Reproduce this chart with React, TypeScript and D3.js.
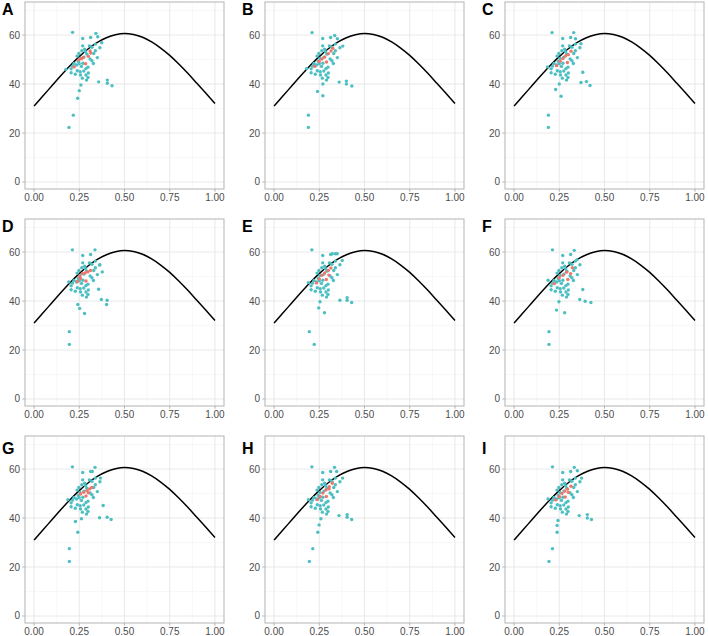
import React from 'react'
import * as d3 from 'd3'

// curve (same in every panel)
const curveX = [0, 0.05, 0.1, 0.15, 0.2, 0.25, 0.3, 0.35, 0.4, 0.45, 0.5, 0.55, 0.6, 0.65, 0.7, 0.75, 0.8, 0.85, 0.9, 0.95, 1]
const curveY = [31.0, 35.2, 39.4, 43.6, 47.6, 51.2, 54.4, 57.0, 58.9, 60.1, 60.6, 60.2, 59.1, 57.2, 54.7, 51.7, 48.2, 44.4, 40.3, 36.2, 32.1]

const panelLabels = ['A', 'B', 'C', 'D', 'E', 'F', 'G', 'H', 'I']
const xTicks = [0, 0.25, 0.5, 0.75, 1]
const yTicks = [0, 20, 40, 60]

// dense cluster, shared by all panels
const corePoints: [number, number][] = [
  [0.269, 58.6], [0.313, 59.0], [0.339, 56.3], [0.269, 55.6], [0.306, 55.6], [0.32, 55.0], [0.364, 54.8],
  [0.28, 54.2], [0.339, 53.6], [0.264, 53.6], [0.285, 53.2], [0.248, 52.5], [0.292, 52.2], [0.33, 52.5],
  [0.238, 51.4], [0.276, 51.0], [0.254, 50.4], [0.221, 48.4], [0.235, 47.8], [0.245, 49.2], [0.27, 48.5],
  [0.328, 48.4], [0.212, 47.3], [0.205, 46.2], [0.25, 48.3], [0.287, 46.3], [0.239, 45.4], [0.255, 45.0],
  [0.298, 46.9], [0.287, 43.7], [0.257, 43.7], [0.267, 42.4], [0.298, 42.7], [0.29, 41.6], [0.32, 49.5],
  [0.262, 47.2], [0.3, 44.5], [0.228, 44.0], [0.31, 50.2], [0.35, 50.8], [0.205, 44.6], [0.275, 45.3],
]

// points that differ from panel to panel
const extraPoints: [number, number][][] = [
  [[0.213, 61.1], [0.342, 60.7], [0.352, 59.3], [0.374, 56.9], [0.176, 46.0], [0.357, 40.9], [0.405, 41.6], [0.405, 40.3], [0.431, 39.3], [0.259, 39.6], [0.25, 37.3], [0.241, 34.2], [0.217, 27.3], [0.193, 22.3]],
  [[0.21, 61.0], [0.335, 59.8], [0.35, 58.5], [0.38, 55.5], [0.18, 46.3], [0.36, 40.8], [0.4, 41.2], [0.4, 40.0], [0.43, 39.2], [0.27, 40.0], [0.24, 37.0], [0.27, 35.2], [0.19, 27.3], [0.19, 22.3]],
  [[0.21, 61.0], [0.33, 61.0], [0.34, 58.5], [0.37, 56.5], [0.185, 47.0], [0.37, 40.6], [0.4, 41.0], [0.42, 39.4], [0.25, 40.0], [0.23, 37.8], [0.26, 35.0], [0.19, 27.3], [0.19, 22.3], [0.38, 44.8]],
  [[0.212, 60.9], [0.337, 60.9], [0.362, 54.7], [0.377, 51.9], [0.192, 47.8], [0.357, 44.8], [0.372, 40.6], [0.404, 40.3], [0.401, 38.6], [0.242, 38.6], [0.252, 37.0], [0.279, 34.9], [0.195, 27.5], [0.195, 22.3]],
  [[0.209, 60.9], [0.322, 59.3], [0.339, 59.3], [0.349, 59.3], [0.377, 56.6], [0.19, 47.5], [0.364, 40.3], [0.404, 41.4], [0.404, 40.3], [0.429, 39.4], [0.254, 39.7], [0.247, 37.2], [0.279, 35.2], [0.195, 27.5], [0.222, 22.3]],
  [[0.2125, 60.9], [0.333, 60.7], [0.348, 56.9], [0.188, 48.5], [0.38, 44.7], [0.363, 40.6], [0.393, 39.9], [0.425, 39.4], [0.248, 39.7], [0.235, 36.3], [0.28, 35.2], [0.193, 27.5], [0.193, 22.3]],
  [[0.212, 60.9], [0.337, 60.7], [0.322, 59.0], [0.367, 56.3], [0.187, 47.5], [0.382, 45.1], [0.362, 40.1], [0.404, 40.3], [0.426, 39.4], [0.262, 39.7], [0.229, 38.6], [0.242, 34.2], [0.195, 27.5], [0.195, 22.3]],
  [[0.209, 60.9], [0.334, 60.7], [0.346, 59.0], [0.379, 56.3], [0.19, 47.5], [0.359, 41.0], [0.404, 41.4], [0.404, 40.3], [0.429, 39.4], [0.259, 39.7], [0.249, 37.2], [0.242, 34.2], [0.214, 27.5], [0.195, 22.3]],
  [[0.2125, 60.9], [0.333, 60.7], [0.35, 59.3], [0.373, 56.3], [0.188, 47.8], [0.36, 41.0], [0.405, 41.4], [0.405, 40.0], [0.428, 39.4], [0.243, 39.0], [0.238, 37.0], [0.238, 34.2], [0.2125, 27.5], [0.193, 22.3]],
]

const redPoints: [number, number][][] = [
  [[0.222, 47.0], [0.248, 49.9], [0.262, 50.3], [0.272, 50.9], [0.285, 48.3], [0.3, 51.3], [0.313, 52.7], [0.31, 53.5]],
  [[0.225, 47.2], [0.25, 49.2], [0.265, 50.2], [0.28, 51.0], [0.29, 49.0], [0.3, 52.4], [0.315, 53.5], [0.325, 54.6]],
  [[0.235, 47.5], [0.255, 49.3], [0.27, 50.4], [0.285, 51.5], [0.295, 48.8], [0.3, 52.0], [0.315, 53.4]],
  [[0.24, 48.0], [0.252, 50.1], [0.267, 51.2], [0.282, 51.5], [0.297, 51.9], [0.312, 52.5], [0.287, 48.2], [0.257, 49.2]],
  [[0.234, 47.4], [0.25, 49.0], [0.265, 50.5], [0.28, 51.5], [0.3, 52.5], [0.314, 53.5], [0.289, 48.8], [0.303, 50.6]],
  [[0.2225, 47.1], [0.25, 49.5], [0.27, 50.5], [0.29, 51.8], [0.3125, 51.2], [0.3225, 53.6], [0.2975, 48.8]],
  [[0.257, 49.8], [0.274, 50.5], [0.292, 51.2], [0.307, 51.9], [0.319, 52.5], [0.287, 49.0], [0.3, 50.3]],
  [[0.239, 47.5], [0.255, 48.8], [0.27, 50.2], [0.287, 51.5], [0.305, 52.8], [0.322, 54.2], [0.289, 48.8], [0.304, 51.9]],
  [[0.23, 47.4], [0.25, 48.8], [0.265, 50.0], [0.28, 51.0], [0.295, 51.8], [0.315, 53.0], [0.283, 48.6], [0.3, 50.5]],
]

const W = 708
const H = 636
const panelW = 199
const panelH = 187
const colStep = 240
const rowStep = 217
const labelBaseline = [15, 232, 454]

const font = 'Liberation Sans, Arial, Helvetica, sans-serif'

function Panel({ idx }: { idx: number }) {
  const col = idx % 3
  const row = Math.floor(idx / 3)
  const left = 25 + col * colStep
  const top = 2 + row * rowStep

  const x = d3.scaleLinear().domain([-0.05, 1.05]).range([0, panelW])
  const y = d3.scaleLinear().domain([-2.86, 73.5]).range([panelH, 0])

  const line = d3.line<number>()
    .x((_, i) => x(curveX[i]))
    .y(d => y(d))
    .curve(d3.curveMonotoneX)

  const minorX = [0.125, 0.375, 0.625, 0.875]
  const minorY = [10, 30, 50, 70]
  const teal = [...corePoints, ...extraPoints[idx]]

  return (
    <g>
      <text x={2 + col * colStep} y={labelBaseline[row]} fontFamily={font} fontWeight="bold" fontSize={16} fill="#000">
        {panelLabels[idx]}
      </text>
      <g transform={`translate(${left},${top})`}>
        {minorX.map(v => (
          <line key={'mx' + v} x1={x(v)} x2={x(v)} y1={0} y2={panelH} stroke="#F0F0F0" strokeWidth={0.5} />
        ))}
        {minorY.map(v => (
          <line key={'my' + v} y1={y(v)} y2={y(v)} x1={0} x2={panelW} stroke="#F0F0F0" strokeWidth={0.5} />
        ))}
        {xTicks.map(v => (
          <line key={'gx' + v} x1={x(v)} x2={x(v)} y1={0} y2={panelH} stroke="#E3E3E3" strokeWidth={0.8} />
        ))}
        {yTicks.map(v => (
          <line key={'gy' + v} y1={y(v)} y2={y(v)} x1={0} x2={panelW} stroke="#E3E3E3" strokeWidth={0.8} />
        ))}
        <path d={line(curveY) || ''} fill="none" stroke="#000" strokeWidth={1.5} />
        {teal.map((p, i) => (
          <circle key={'t' + i} cx={x(p[0])} cy={y(p[1])} r={1.7} fill="#4DBFC2" />
        ))}
        {redPoints[idx].map((p, i) => (
          <circle key={'r' + i} cx={x(p[0])} cy={y(p[1])} r={1.7} fill="#EE766C" />
        ))}
        <rect x={0} y={0} width={panelW} height={panelH} fill="none" stroke="#B3B3B3" strokeWidth={1} />
        {xTicks.map(v => (
          <g key={'tx' + v}>
            <line x1={x(v)} x2={x(v)} y1={panelH} y2={panelH + 2.7} stroke="#B3B3B3" />
            <text x={x(v)} y={panelH + 12} textAnchor="middle" fontFamily={font} fontSize={10} fill="#4D4D4D">
              {d3.format('.2f')(v)}
            </text>
          </g>
        ))}
        {yTicks.map(v => (
          <g key={'ty' + v}>
            <line x1={-2.7} x2={0} y1={y(v)} y2={y(v)} stroke="#B3B3B3" />
            <text x={-5} y={y(v)} dy="0.35em" textAnchor="end" fontFamily={font} fontSize={10} fill="#4D4D4D">
              {v}
            </text>
          </g>
        ))}
      </g>
    </g>
  )
}

export default function App() {
  return (
    <svg
      width={W}
      height={H}
      viewBox={`0 0 ${W} ${H}`}
      style={{ position: 'absolute', left: 0, top: 0, background: '#fff', display: 'block' }}
    >
      <rect width={W} height={H} fill="#fff" />
      {panelLabels.map((_, i) => (
        <Panel key={i} idx={i} />
      ))}
    </svg>
  )
}
